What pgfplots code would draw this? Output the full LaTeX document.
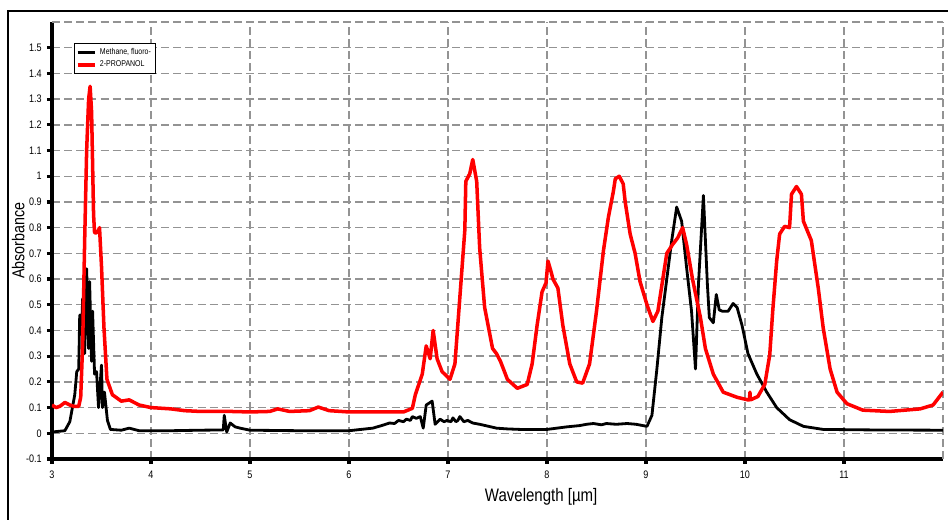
\documentclass[border=0pt]{standalone}
\usepackage{fontspec}
\setmainfont{Liberation Sans}[FakeStretch=0.83]
\usepackage{pgfplots}
\pgfplotsset{compat=1.18}

\begin{document}
\begin{tikzpicture}
\begin{axis}[
  at={(1.04cm,1.22cm)}, anchor=south west,
  scale only axis, width=17.82cm, height=8.74cm,
  xmin=3, xmax=12, ymin=-0.1, ymax=1.6,
  axis lines*=left,
  axis line style={black, line width=1.8pt},
  every outer x axis line/.append style={line width=1.8pt},
  every outer y axis line/.append style={line width=1.8pt},
  xtick={3,4,...,11},
  ytick={-0.1,0,0.1,0.2,0.3,0.4,0.5,0.6,0.7,0.8,0.9,1,1.1,1.2,1.3,1.4,1.5},
  extra x ticks={12}, extra x tick labels={},
  extra y ticks={1.6}, extra y tick labels={},
  extra tick style={major tick length=0pt},
  grid=major,
  major grid style={gray!85, line width=0.8pt, dash pattern=on 4.6pt off 2.3pt},
  tick align=outside, major tick length=0.1cm,
  tick style={black, line width=1.8pt},
  /pgf/number format/assume math mode=true,
  tick label style={font=\fontsize{6.2}{7}\selectfont},
  yticklabel style={xshift=0.5pt},
  xticklabel style={yshift=-0.5pt},
  xlabel={Wavelength [µm]}, ylabel={Absorbance},
  xlabel style={font=\fontsize{10.3}{11}\selectfont, at={(axis description cs:0.549,-0.087)}, anchor=center},
  ylabel style={font=\fontsize{9.8}{11}\selectfont, at={(axis description cs:-0.038,0.5)}, anchor=center, rotate=0},
  legend style={at={(0.0247,0.952)}, anchor=north west, draw=black, line width=0.8pt,
    font=\fontsize{4.8}{5}\selectfont, inner sep=0.5pt, row sep=-2pt, cells={anchor=west}},
  legend image code/.code={\draw[#1, line width=2.2pt] (0cm,0cm) -- (0.34cm,0cm);},
]
\addplot[black, line width=1.6pt, line join=round] coordinates {
 (3.00,0.005) (3.13,0.01) (3.18,0.045) (3.23,0.15) (3.25,0.24) (3.27,0.25) (3.28,0.46)
 (3.30,0.42) (3.31,0.525) (3.33,0.31) (3.35,0.64) (3.37,0.33) (3.38,0.59) (3.40,0.28)
 (3.41,0.475) (3.43,0.23) (3.45,0.24) (3.47,0.10) (3.50,0.265) (3.51,0.10) (3.53,0.16)
 (3.56,0.05) (3.59,0.015) (3.70,0.012) (3.78,0.02) (3.88,0.01) (4.2,0.01) (4.5,0.012)
 (4.73,0.013) (4.74,0.07) (4.765,0.005) (4.80,0.04) (4.85,0.025) (4.90,0.02) (5.0,0.012)
 (5.5,0.01) (6.0,0.01) (6.24,0.02) (6.33,0.03) (6.41,0.04) (6.46,0.038) (6.50,0.05)
 (6.55,0.045) (6.58,0.055) (6.62,0.05) (6.64,0.065) (6.68,0.058) (6.72,0.065) (6.75,0.02)
 (6.78,0.11) (6.84,0.125) (6.87,0.035) (6.92,0.055) (6.96,0.045) (6.99,0.05) (7.03,0.045)
 (7.05,0.06) (7.08,0.045) (7.10,0.05) (7.12,0.065) (7.16,0.045) (7.20,0.05) (7.25,0.04)
 (7.32,0.035) (7.40,0.028) (7.49,0.02) (7.60,0.017) (7.73,0.015) (8.0,0.015) (8.10,0.02)
 (8.20,0.025) (8.33,0.03) (8.40,0.035) (8.47,0.038) (8.55,0.033) (8.6,0.038) (8.70,0.035)
 (8.81,0.038) (8.90,0.035) (9.01,0.027) (9.06,0.07) (9.11,0.25) (9.16,0.45) (9.21,0.60)
 (9.26,0.75) (9.31,0.88) (9.36,0.825) (9.41,0.645) (9.46,0.475) (9.50,0.25) (9.53,0.58)
 (9.58,0.925) (9.62,0.58) (9.64,0.45) (9.68,0.43) (9.71,0.54) (9.74,0.48) (9.77,0.475)
 (9.83,0.475) (9.88,0.505) (9.92,0.49) (9.97,0.42) (10.03,0.31) (10.12,0.23) (10.22,0.16)
 (10.32,0.10) (10.45,0.053) (10.59,0.027) (10.79,0.015) (11.3,0.013) (12.0,0.012)};
\addlegendentry{Methane, fluoro-}
\addplot[red, line width=2pt, line join=round] coordinates {
 (3.00,0.11) (3.04,0.10) (3.08,0.105) (3.13,0.12) (3.18,0.11) (3.22,0.105) (3.27,0.105)
 (3.29,0.14) (3.31,0.35) (3.33,0.75) (3.35,1.10) (3.37,1.30) (3.385,1.35) (3.40,1.25)
 (3.41,1.05) (3.42,0.85) (3.43,0.78) (3.45,0.78) (3.47,0.79) (3.48,0.80) (3.50,0.65)
 (3.525,0.41) (3.555,0.21) (3.61,0.15) (3.70,0.125) (3.78,0.13) (3.88,0.11) (4.0,0.10)
 (4.2,0.095) (4.34,0.088) (4.5,0.085) (4.8,0.085) (5.0,0.083) (5.2,0.085) (5.28,0.095)
 (5.4,0.085) (5.6,0.088) (5.69,0.102) (5.8,0.088) (6.0,0.083) (6.3,0.083) (6.55,0.083)
 (6.64,0.097) (6.67,0.15) (6.74,0.23) (6.78,0.34) (6.82,0.29) (6.85,0.40) (6.89,0.29)
 (6.94,0.24) (7.02,0.21) (7.07,0.27) (7.12,0.53) (7.17,0.79) (7.18,0.98) (7.22,1.01)
 (7.25,1.065) (7.29,0.98) (7.32,0.72) (7.37,0.49) (7.45,0.33) (7.49,0.31) (7.53,0.28)
 (7.60,0.21) (7.70,0.175) (7.80,0.19) (7.85,0.27) (7.90,0.42) (7.95,0.55) (7.99,0.585)
 (8.01,0.67) (8.04,0.63) (8.06,0.60) (8.11,0.565) (8.16,0.42) (8.23,0.27) (8.30,0.20)
 (8.36,0.195) (8.43,0.27) (8.50,0.475) (8.57,0.71) (8.62,0.84) (8.67,0.94) (8.69,0.99)
 (8.73,1.00) (8.77,0.97) (8.79,0.90) (8.84,0.775) (8.89,0.70) (8.94,0.59) (9.01,0.50)
 (9.07,0.435) (9.12,0.475) (9.17,0.60) (9.21,0.70) (9.27,0.735) (9.32,0.76) (9.37,0.80)
 (9.41,0.735) (9.47,0.60) (9.55,0.45) (9.60,0.33) (9.68,0.23) (9.78,0.16) (9.92,0.14)
 (10.03,0.13) (10.045,0.13) (10.05,0.16) (10.055,0.13) (10.13,0.143) (10.20,0.19)
 (10.25,0.305) (10.28,0.475) (10.32,0.67) (10.35,0.775) (10.40,0.805) (10.45,0.80)
 (10.47,0.93) (10.52,0.96) (10.57,0.93) (10.59,0.825) (10.67,0.75) (10.74,0.565)
 (10.79,0.41) (10.86,0.25) (10.93,0.16) (11.03,0.115) (11.19,0.09) (11.46,0.085)
 (11.77,0.095) (11.90,0.11) (12.0,0.16)};
\addlegendentry{2-PROPANOL}
\end{axis}
\draw[black, line width=0.8pt] (0.16cm,-1cm) rectangle (20cm,10.18cm);
\pgfresetboundingbox
\useasboundingbox (0,0) rectangle (18.96cm,10.4cm);
\end{tikzpicture}
\end{document}
